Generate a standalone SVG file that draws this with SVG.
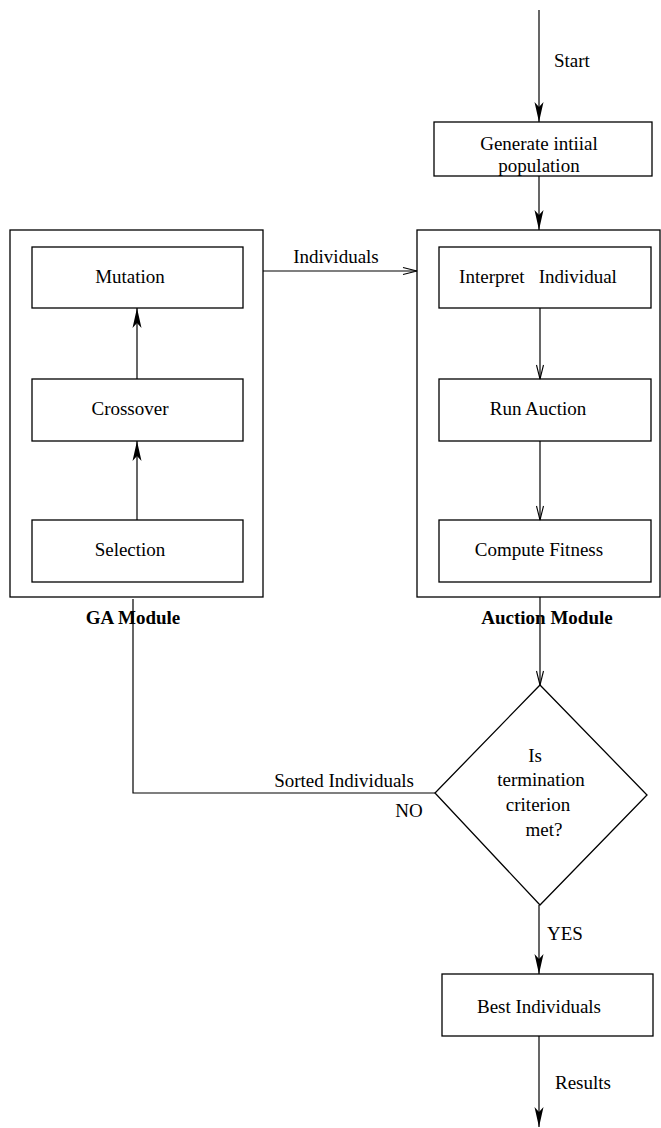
<svg xmlns="http://www.w3.org/2000/svg" width="661" height="1128" viewBox="0 0 661 1128">
  <style>
    .box { fill: #fff; stroke: #000; stroke-width: 1.3; }
    .wire { fill: none; stroke: #000; stroke-width: 1.2; }
    .lbl { font-family: "Liberation Serif", "Times New Roman", serif; font-size: 19px; fill: #000; }
    .mid { text-anchor: middle; }
    .bold { font-weight: bold; }
  </style>
  <defs>
    <marker id="solid" markerUnits="userSpaceOnUse" markerWidth="22" markerHeight="12" viewBox="-21 -6 22 12" refX="0" refY="0" orient="auto">
      <path d="M0,0 L-20,-4.5 L-15,0 L-20,4.5 z" fill="#000"/>
    </marker>
    <marker id="open" markerUnits="userSpaceOnUse" markerWidth="16" markerHeight="12" viewBox="-15 -6 16 12" refX="0" refY="0" orient="auto">
      <path d="M-14,-3.5 L0,0 L-14,3.5" fill="none" stroke="#000" stroke-width="1.1"/>
    </marker>
  </defs>

  <!-- module frames -->
  <g id="ga-module">
    <rect class="box" x="10" y="230" width="253" height="367"/>
    <text class="lbl mid bold" x="133" y="624">GA Module</text>
  </g>
  <g id="auction-module">
    <rect class="box" x="417" y="230" width="243" height="367"/>
    <text class="lbl mid bold" x="547" y="624">Auction Module</text>
  </g>

  <!-- process nodes -->
  <g id="generate">
    <rect class="box" x="434" y="122" width="218" height="54"/>
    <text class="lbl mid" x="539" y="150">Generate intiial</text>
    <text class="lbl mid" x="539" y="172">population</text>
  </g>
  <g id="mutation">
    <rect class="box" x="32" y="247" width="211" height="61"/>
    <text class="lbl mid" x="130" y="283">Mutation</text>
  </g>
  <g id="crossover">
    <rect class="box" x="32" y="379" width="211" height="62"/>
    <text class="lbl mid" x="130" y="415">Crossover</text>
  </g>
  <g id="selection">
    <rect class="box" x="32" y="520" width="211" height="62"/>
    <text class="lbl mid" x="130" y="556">Selection</text>
  </g>
  <g id="interpret">
    <rect class="box" x="439" y="247" width="212" height="61"/>
    <text class="lbl mid" x="538" y="283" xml:space="preserve">Interpret   Individual</text>
  </g>
  <g id="run-auction">
    <rect class="box" x="439" y="379" width="212" height="62"/>
    <text class="lbl mid" x="538" y="415">Run Auction</text>
  </g>
  <g id="compute-fitness">
    <rect class="box" x="439" y="520" width="212" height="62"/>
    <text class="lbl mid" x="539" y="556">Compute Fitness</text>
  </g>
  <g id="termination">
    <polygon class="box" points="540,685 647,795 540,905 435,793"/>
    <text class="lbl mid" x="535" y="762">Is</text>
    <text class="lbl mid" x="541" y="786">termination</text>
    <text class="lbl mid" x="538" y="811">criterion</text>
    <text class="lbl mid" x="544" y="836">met?</text>
  </g>
  <g id="best">
    <rect class="box" x="442" y="974" width="211" height="62"/>
    <text class="lbl mid" x="539" y="1013">Best Individuals</text>
  </g>

  <!-- connectors -->
  <g id="connectors">
    <line class="wire" x1="539" y1="10" x2="539" y2="122" marker-end="url(#solid)"/>
    <line class="wire" x1="539" y1="176" x2="539" y2="230" marker-end="url(#solid)"/>
    <line class="wire" x1="263" y1="271" x2="417" y2="271" marker-end="url(#open)"/>
    <line class="wire" x1="540" y1="308" x2="540" y2="379" marker-end="url(#open)"/>
    <line class="wire" x1="540" y1="441" x2="540" y2="520" marker-end="url(#open)"/>
    <line class="wire" x1="540" y1="597" x2="540" y2="685" marker-end="url(#open)"/>
    <line class="wire" x1="137" y1="379" x2="137" y2="308" marker-end="url(#solid)"/>
    <line class="wire" x1="137" y1="520" x2="137" y2="441" marker-end="url(#solid)"/>
    <polyline class="wire" points="435,793 133,793 133,599"/>
    <line class="wire" x1="539" y1="905" x2="539" y2="974" marker-end="url(#solid)"/>
    <line class="wire" x1="539" y1="1036" x2="539" y2="1127" marker-end="url(#solid)"/>
    <text class="lbl" x="554" y="67">Start</text>
    <text class="lbl mid" x="336" y="263">Individuals</text>
    <text class="lbl" x="414" y="787" text-anchor="end">Sorted Individuals</text>
    <text class="lbl mid" x="409" y="817">NO</text>
    <text class="lbl" x="547" y="940">YES</text>
    <text class="lbl" x="555" y="1089">Results</text>
  </g>
</svg>
